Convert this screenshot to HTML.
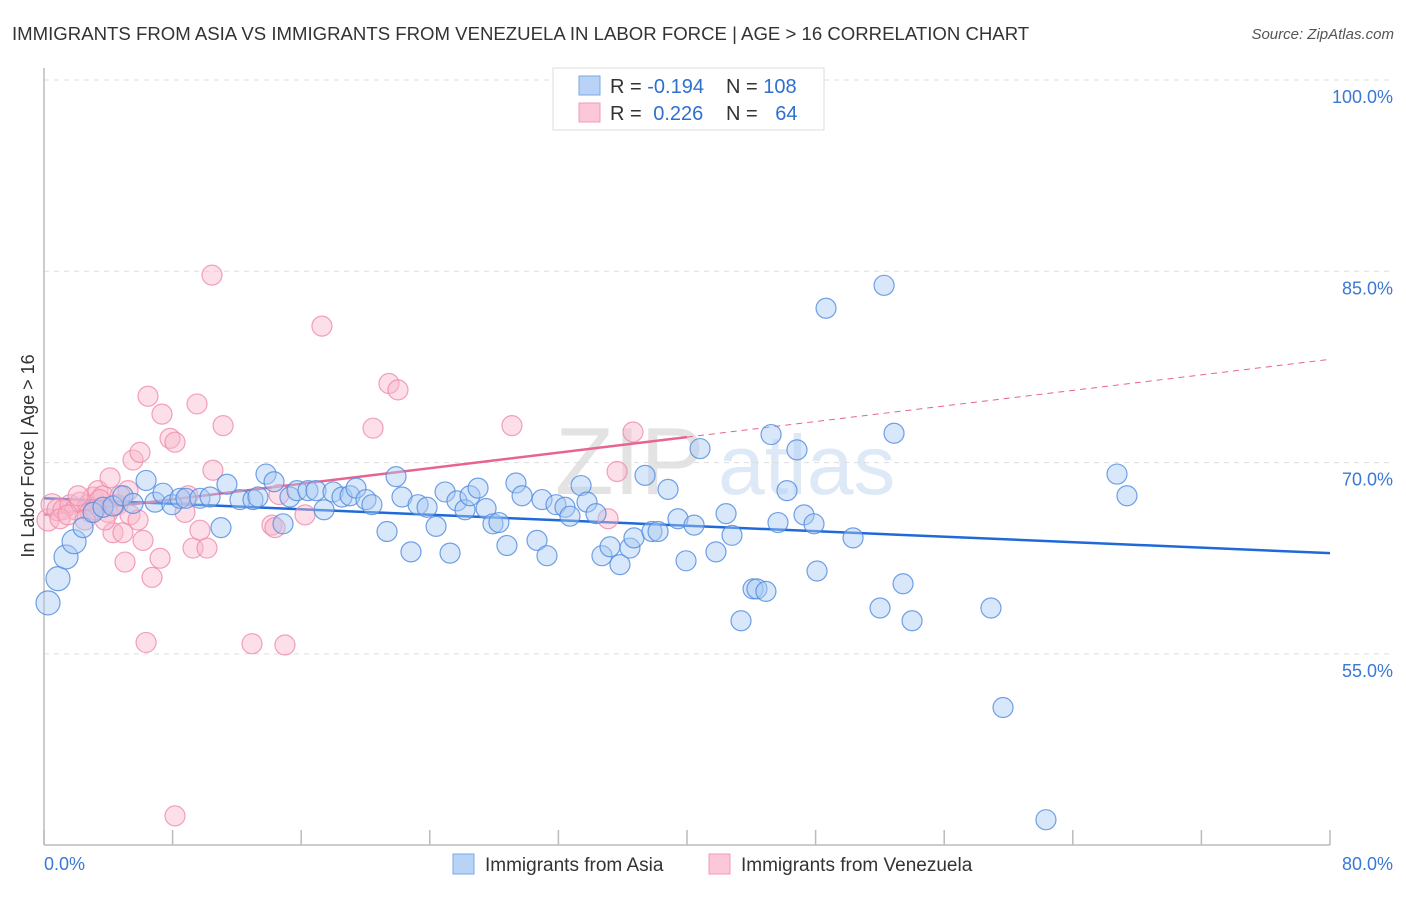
<!DOCTYPE html>
<html><head><meta charset="utf-8"><style>
body{margin:0;background:#fff;font-family:"Liberation Sans",sans-serif;}
svg text{font-family:"Liberation Sans",sans-serif;}
</style></head><body>
<svg id="chart" width="1406" height="892" viewBox="0 0 1406 892" xmlns="http://www.w3.org/2000/svg">
<text x="12" y="40" font-size="18.6" fill="#333">IMMIGRANTS FROM ASIA VS IMMIGRANTS FROM VENEZUELA IN LABOR FORCE | AGE &gt; 16 CORRELATION CHART</text>
<text x="1394" y="39" font-size="15" fill="#555" text-anchor="end" font-style="italic">Source: ZipAtlas.com</text>
<g>
<text x="555" y="494" font-size="96" fill="#ddd" font-family="Liberation Serif, serif" opacity="0.8">ZIP</text>
<text x="718" y="494" font-size="84" fill="#c9dcf3" opacity="0.6">atlas</text>
</g>
<g id="grid"></g>
<g id="axes"></g>
<g id="trend"></g>
<g id="pts"></g>
<text transform="translate(34,456) rotate(-90)" font-size="18" fill="#333" text-anchor="middle">In Labor Force | Age &gt; 16</text>
<g>
<rect x="553" y="68" width="271" height="62" fill="#fff" stroke="#ddd"/>
<rect x="579" y="76" width="21" height="19" fill="#b8d3f5" stroke="#7aa8e6"/>
<rect x="579" y="103" width="21" height="19" fill="#fcc8d8" stroke="#f09ab5"/>
<text x="610" y="93" font-size="20" fill="#333">R = <tspan fill="#2f6fcf">-0.194</tspan></text>
<text x="726" y="93" font-size="20" fill="#333">N = <tspan fill="#2f6fcf">108</tspan></text>
<text x="610" y="120" font-size="20" fill="#333">R = <tspan fill="#2f6fcf" dx="6">0.226</tspan></text>
<text x="726" y="120" font-size="20" fill="#333">N = <tspan fill="#2f6fcf" dx="12">64</tspan></text>
</g>
<g>
<rect x="453" y="854" width="21" height="20" fill="#b8d3f5" stroke="#7aa8e6"/>
<text x="485" y="871" font-size="19" fill="#333">Immigrants from Asia</text>
<rect x="709" y="854" width="21" height="20" fill="#fcc8d8" stroke="#f09ab5"/>
<text x="741" y="871" font-size="19" fill="#333">Immigrants from Venezuela</text>
</g>
</svg>
<script>
const blueX=[0.25,0.87,1.37,1.87,2.43,3.05,3.67,4.29,4.91,5.54,6.35,6.91,7.40,7.96,8.46,8.83,9.70,10.33,11.01,11.38,12.19,13.00,13.31,13.81,14.31,14.87,15.30,15.74,16.42,16.92,17.42,17.98,18.54,19.04,19.41,20.03,20.40,21.34,21.90,22.27,22.83,23.27,23.83,24.39,24.95,25.26,25.69,26.19,26.50,27.00,27.50,27.93,28.30,28.80,29.36,29.74,30.67,30.98,31.29,31.85,32.41,32.72,33.41,33.78,34.34,34.71,35.21,35.83,36.45,36.70,37.39,37.82,38.20,38.82,39.44,39.94,40.44,40.81,41.80,42.43,42.80,44.11,44.35,44.91,43.36,45.23,45.66,46.22,46.84,47.28,47.90,48.09,48.65,50.33,52.01,52.26,52.88,53.44,54.00,58.91,59.66,62.33,66.75,67.37];
const blueY=[59.0,60.9,62.6,63.8,64.9,66.1,66.5,66.6,67.4,66.8,68.6,66.9,67.6,66.7,67.2,67.2,67.2,67.3,64.9,68.3,67.1,67.1,67.3,69.1,68.5,65.2,67.3,67.8,67.8,67.8,66.3,67.7,67.3,67.4,68.0,67.1,66.7,64.6,68.9,67.3,63.0,66.7,66.5,65.0,67.7,62.9,67.0,66.3,67.4,68.0,66.4,65.2,65.3,63.5,68.4,67.4,63.9,67.1,62.7,66.7,66.5,65.8,68.2,66.9,66.0,62.7,63.4,62.0,63.3,64.1,69.0,64.6,64.6,67.9,65.6,62.3,65.1,71.1,63.0,66.0,64.3,60.1,60.1,59.9,57.6,72.2,65.3,67.8,71.0,65.9,65.2,61.5,82.1,64.1,58.6,83.9,72.3,60.5,57.6,58.6,50.8,42.0,69.1,67.4];
const pinkX=[0.25,0.50,0.87,1.18,1.62,1.93,2.24,2.74,3.05,3.36,3.67,4.11,3.98,4.29,4.60,4.91,5.04,5.23,5.35,5.54,5.85,5.97,6.16,6.35,6.47,6.72,7.22,7.34,7.84,8.15,8.15,8.77,8.96,9.27,9.52,9.70,10.14,10.45,10.51,11.14,12.94,14.18,14.37,14.62,14.99,16.24,17.29,20.47,21.46,22.02,29.11,35.65,35.09,36.64,2.86,1.00,1.49,3.48,3.79,4.42,3.17,4.73,2.55,2.12];
const pinkY=[65.5,66.7,66.3,66.3,66.7,66.3,66.9,66.7,67.3,67.8,67.4,68.8,66.1,64.5,66.7,64.5,62.2,67.8,65.9,70.2,65.5,70.8,63.9,55.9,75.2,61.0,62.5,73.8,71.9,71.6,42.3,66.1,67.4,63.3,74.6,64.7,63.3,84.7,69.4,72.9,55.8,65.1,64.9,67.5,55.7,65.9,80.7,72.7,76.2,75.7,72.9,69.3,65.6,72.4,66.1,65.6,65.9,67.1,65.5,66.7,66.3,67.4,65.5,67.4];
const blueTrend=[67.2,62.9];
const pinkTrend=[65.9,78.1];
const pinkSolidEnd=40;
const yTicks=[100,85,70,55];
const yTickLabels=["100.0%","85.0%","70.0%","55.0%"];
const xTicks=[0,8,16,24,32,40,48,56,64,72,80];

const NS="http://www.w3.org/2000/svg";
const xS=v=>44+v*(1286/80);
const yS=v=>80+(100-v)*(191.3/15);
function mk(tag,attrs,parent){const e=document.createElementNS(NS,tag);for(const k in attrs)e.setAttribute(k,attrs[k]);document.getElementById(parent).appendChild(e);return e;}
yTicks.forEach((t,i)=>{
  const l=mk('line',{x1:44,x2:1394,y1:yS(t),y2:yS(t),stroke:'#ddd','stroke-dasharray':'5,5'},'grid');
  
  
  const tx=mk('text',{x:1393,y:yS(t)+23,'font-size':18,fill:'#3a78d4','text-anchor':'end'},'grid');
  tx.textContent=yTickLabels[i];
  
  
});
mk('line',{x1:44,x2:44,y1:68,y2:845,stroke:'#bbb','stroke-width':1.5},'axes');
mk('line',{x1:44,x2:1330,y1:845,y2:845,stroke:'#bbb','stroke-width':1.5},'axes');
xTicks.forEach(t=>{
  const l=mk('line',{x1:xS(t),x2:xS(t),y1:830,y2:845,stroke:'#bbb','stroke-width':1.5},'axes');
  
  
});
const xl0=mk('text',{x:44,y:870,'font-size':18,fill:'#3a78d4'},'axes');xl0.textContent='0.0%';


const xl1=mk('text',{x:1393,y:870,'font-size':18,fill:'#3a78d4','text-anchor':'end'},'axes');xl1.textContent='80.0%';



function drawPts(xs,ys,fill,stroke,name){
  xs.forEach((x,i)=>{
    const r=(name==='asia-point'&&x<2)?12:(x<1?11:10);
    const c=mk('circle',{cx:xS(x),cy:yS(ys[i]),r:r,fill:fill,'fill-opacity':0.45,stroke:stroke,'stroke-opacity':0.8,'stroke-width':1.2},'pts');
    
    
  });
}
drawPts(pinkX,pinkY,'#f9b8cc','#f08aaa','venezuela-point');
drawPts(blueX,blueY,'#a9c9f2','#4f8ae0','asia-point');

const bt=mk('line',{x1:xS(0),y1:yS(blueTrend[0]),x2:xS(80),y2:yS(blueTrend[1]),stroke:'#1f6ad8','stroke-width':2.5},'trend');


const pm=pinkTrend[0]+(pinkTrend[1]-pinkTrend[0])*pinkSolidEnd/80;
const ps=mk('line',{x1:xS(0),y1:yS(pinkTrend[0]),x2:xS(pinkSolidEnd),y2:yS(pm),stroke:'#e8648f','stroke-width':2.5},'trend');


const pd=mk('line',{x1:xS(pinkSolidEnd),y1:yS(pm),x2:xS(80),y2:yS(pinkTrend[1]),stroke:'#e8648f','stroke-width':1,'stroke-dasharray':'6,5'},'trend');


</script>
</body></html>
